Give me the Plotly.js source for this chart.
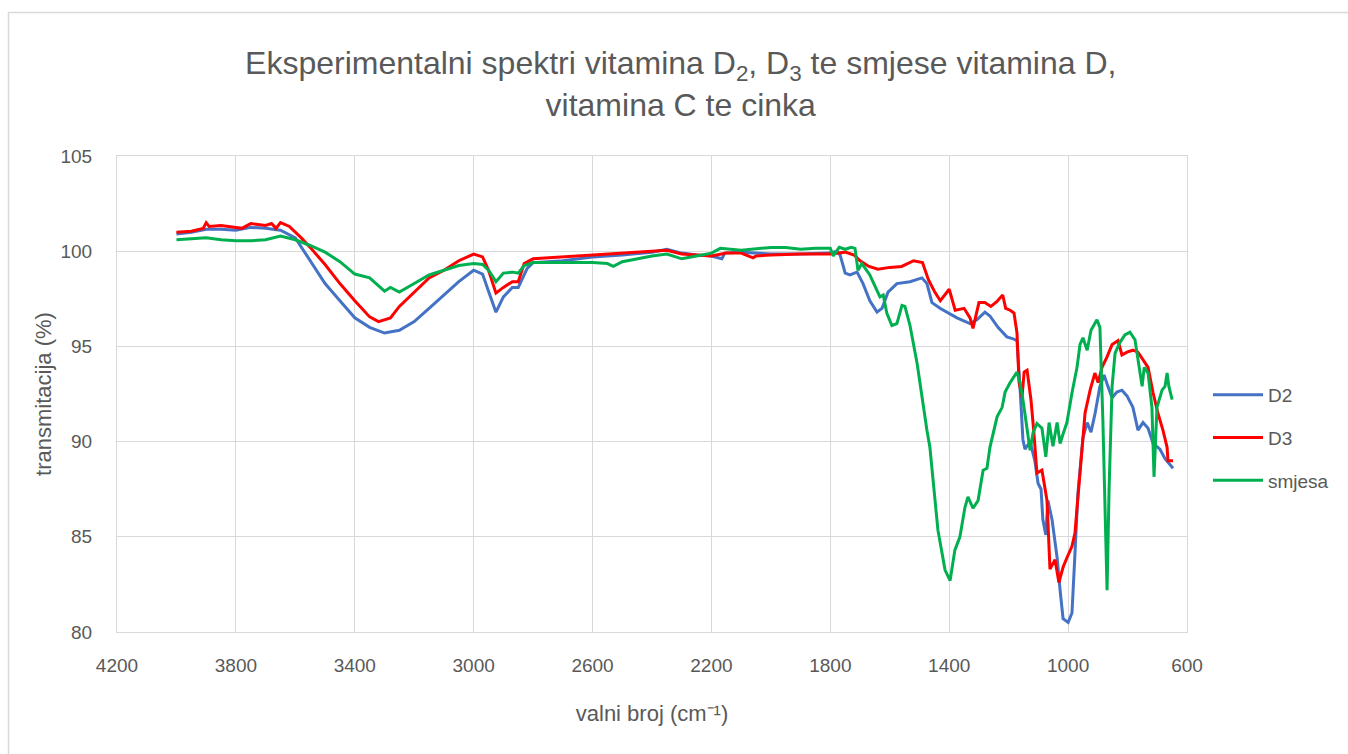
<!DOCTYPE html>
<html>
<head>
<meta charset="utf-8">
<script src="https://cdn.plot.ly/plotly-3.0.1.min.js"></script>
<style>html,body{margin:0;padding:0;background:#fff;}#chart{width:1348px;height:754px;}</style>
</head>
<body>
<div id="chart"></div>
<script>
const seriesNames = ["D2", "D3", "smjesa"];
const xTickLabels = ["4200", "3800", "3400", "3000", "2600", "2200", "1800", "1400", "1000", "600"];
const yTickLabels = ["80", "85", "90", "95", "100", "105"];

const d2Wavenumber = [4000, 3950, 3900, 3850, 3800, 3750, 3700, 3650, 3600, 3550, 3500, 3450, 3400, 3350, 3300, 3250, 3200, 3150, 3100, 3050, 3000, 2970, 2950, 2925, 2900, 2870, 2850, 2820, 2800, 2700, 2600, 2500, 2400, 2350, 2300, 2250, 2200, 2165, 2155, 2100, 2000, 1900, 1800, 1780, 1767, 1750, 1734, 1710, 1690, 1667, 1643, 1626, 1606, 1576, 1532, 1492, 1475, 1458, 1431, 1404, 1374, 1330, 1307, 1280, 1263, 1236, 1206, 1185, 1172, 1162, 1152, 1145, 1128, 1112, 1101, 1091, 1085, 1075, 1068, 1054, 1037, 1027, 1017, 1000, 987, 977, 967, 950, 936, 923, 909, 893, 879, 866, 852, 836, 819, 802, 782, 765, 748, 731, 714, 691, 674, 647];
const d2Transmission = [100.9, 101.0, 101.15, 101.15, 101.1, 101.25, 101.2, 101.1, 100.7, 99.5, 98.3, 97.4, 96.5, 96.0, 95.7, 95.85, 96.3, 97.0, 97.7, 98.4, 99.0, 98.8, 97.9, 96.8, 97.6, 98.1, 98.1, 99.1, 99.4, 99.5, 99.7, 99.8, 99.95, 100.1, 99.9, 99.8, 99.75, 99.6, 99.9, 99.95, 99.85, 99.85, 99.9, 100.0, 99.8, 98.85, 98.75, 98.9, 98.3, 97.4, 96.8, 97.0, 97.85, 98.3, 98.4, 98.6, 98.3, 97.3, 97.0, 96.75, 96.5, 96.2, 96.4, 96.8, 96.6, 96.0, 95.5, 95.4, 95.3, 92.9, 90.1, 89.6, 90.0, 89.0, 87.8, 87.5, 85.9, 85.1, 86.9, 85.9, 83.9, 82.2, 80.7, 80.5, 81.0, 84.1, 87.3, 90.2, 91.0, 90.5, 91.5, 92.9, 93.5, 92.9, 92.3, 92.6, 92.7, 92.4, 91.8, 90.6, 91.0, 90.7, 89.9, 89.6, 89.1, 88.6];

const d3Wavenumber = [4000, 3950, 3910, 3900, 3890, 3850, 3800, 3780, 3750, 3700, 3680, 3665, 3650, 3620, 3580, 3550, 3500, 3450, 3400, 3350, 3320, 3280, 3250, 3200, 3150, 3100, 3050, 3000, 2970, 2950, 2925, 2900, 2870, 2850, 2830, 2800, 2700, 2600, 2500, 2400, 2350, 2300, 2200, 2150, 2100, 2060, 2050, 2000, 1900, 1800, 1780, 1750, 1720, 1700, 1670, 1640, 1600, 1560, 1520, 1490, 1470, 1450, 1430, 1400, 1380, 1350, 1330, 1320, 1300, 1280, 1260, 1240, 1220, 1210, 1195, 1182, 1172, 1165, 1155, 1148, 1138, 1125, 1115, 1105, 1088, 1071, 1061, 1044, 1031, 1017, 1004, 987, 977, 960, 943, 926, 910, 899, 886, 869, 852, 832, 819, 802, 782, 765, 748, 731, 714, 698, 681, 667, 664, 647];
const d3Transmission = [101.0, 101.05, 101.2, 101.5, 101.3, 101.35, 101.25, 101.2, 101.45, 101.35, 101.45, 101.2, 101.5, 101.3, 100.7, 100.2, 99.3, 98.3, 97.4, 96.55, 96.3, 96.5, 97.1, 97.85, 98.6, 99.0, 99.5, 99.85, 99.7, 99.0, 97.8, 98.1, 98.4, 98.4, 99.35, 99.6, 99.7, 99.8, 99.9, 100.0, 100.05, 99.85, 99.75, 99.9, 99.9, 99.65, 99.75, 99.8, 99.85, 99.85, 99.9, 99.95, 99.8, 99.5, 99.2, 99.05, 99.15, 99.2, 99.5, 99.4, 98.5, 97.9, 97.4, 98.0, 96.9, 97.0, 96.5, 95.95, 97.3, 97.3, 97.1, 97.35, 97.7, 97.0, 96.9, 96.75, 95.7, 93.1, 92.35, 93.65, 93.75, 92.2, 90.45, 88.35, 88.5, 86.9, 83.3, 83.8, 82.6, 83.4, 83.9, 84.5, 85.2, 88.35, 91.5, 92.7, 93.6, 93.1, 93.9, 94.45, 95.1, 95.3, 94.55, 94.7, 94.8, 94.7, 94.3, 93.9, 92.55, 91.5, 90.6, 89.7, 89.0, 89.0];

const mixWavenumber = [4000, 3950, 3900, 3850, 3800, 3750, 3700, 3650, 3600, 3550, 3500, 3450, 3400, 3350, 3320, 3300, 3280, 3250, 3200, 3150, 3100, 3050, 3000, 2970, 2950, 2925, 2900, 2870, 2850, 2830, 2800, 2700, 2600, 2550, 2530, 2500, 2450, 2400, 2350, 2300, 2250, 2200, 2170, 2100, 2000, 1950, 1900, 1850, 1800, 1790, 1770, 1750, 1730, 1717, 1707, 1694, 1667, 1643, 1633, 1622, 1610, 1593, 1576, 1559, 1549, 1532, 1508, 1475, 1465, 1438, 1414, 1397, 1381, 1364, 1347, 1337, 1320, 1303, 1286, 1273, 1263, 1239, 1222, 1212, 1195, 1172, 1162, 1152, 1138, 1128, 1118, 1105, 1088, 1075, 1064, 1051, 1037, 1027, 1017, 1004, 987, 970, 960, 950, 936, 923, 903, 893, 883, 869, 862, 852, 842, 826, 809, 792, 775, 765, 751, 744, 731, 718, 711, 701, 684, 674, 667, 661, 650];
const mixTransmission = [100.6, 100.65, 100.7, 100.6, 100.55, 100.55, 100.6, 100.8, 100.6, 100.3, 99.95, 99.45, 98.8, 98.6, 98.2, 97.9, 98.1, 97.85, 98.3, 98.75, 99.0, 99.25, 99.35, 99.3, 99.0, 98.4, 98.85, 98.9, 98.85, 99.25, 99.4, 99.4, 99.4, 99.35, 99.2, 99.45, 99.6, 99.75, 99.85, 99.6, 99.75, 99.9, 100.15, 100.05, 100.2, 100.2, 100.1, 100.15, 100.15, 99.75, 100.2, 100.1, 100.2, 100.15, 99.0, 99.35, 98.75, 97.95, 97.6, 97.7, 96.75, 96.1, 96.2, 97.15, 97.1, 96.1, 94.1, 90.6, 89.7, 85.35, 83.25, 82.7, 84.3, 85.0, 86.55, 87.1, 86.5, 86.9, 88.5, 88.6, 89.7, 91.3, 91.8, 92.6, 93.1, 93.65, 93.1, 92.2, 90.8, 89.55, 90.45, 90.95, 90.7, 89.2, 91.0, 89.75, 91.0, 89.9, 90.4, 91.0, 92.55, 93.9, 95.1, 95.45, 94.8, 95.85, 96.4, 96.0, 91.1, 82.2, 87.6, 92.9, 94.65, 95.2, 95.6, 95.75, 95.35, 94.3, 92.9, 93.9, 93.6, 91.8, 88.15, 91.8, 92.7, 92.9, 93.6, 92.9, 92.2];

const seriesColors = ["#4472C4", "#FF0000", "#00B050"];
const xs = [d2Wavenumber, d3Wavenumber, mixWavenumber];
const ys = [d2Transmission, d3Transmission, mixTransmission];

const traces = seriesNames.map((name, i) => ({
  x: xs[i], y: ys[i], name: name, type: "scatter", mode: "lines",
  legendgroup: "g" + i,
  line: {color: seriesColors[i], width: 3}
}));

const FONT = "Liberation Sans, Arial, sans-serif";
const TXT = "#595959";
const GRID = "#d9d9d9";

const layout = {
  width: 1348, height: 754,
  paper_bgcolor: "#ffffff", plot_bgcolor: "#ffffff",
  margin: {l: 117, r: 161, t: 156, b: 122},
  font: {family: FONT, color: TXT},
  title: {
    text: "Eksperimentalni spektri vitamina D<sub>2</sub>, D<sub>3</sub> te smjese vitamina D,<br>vitamina C te cinka",
    font: {family: FONT, size: 32, color: TXT},
    x: 0.505, xref: "container", xanchor: "center",
    y: 1 - 74 / 754, yref: "container", yanchor: "middle"
  },
  xaxis: {
    range: [4200, 600], tickmode: "array",
    tickvals: xTickLabels.map(Number), ticktext: xTickLabels,
    showgrid: true, gridcolor: GRID, gridwidth: 1,
    zeroline: false, showline: true, linecolor: GRID, linewidth: 1, mirror: true,
    ticks: "", ticklabelstandoff: 16,
    tickfont: {family: FONT, size: 19, color: TXT},
    title: {text: "valni broj (cm⁻¹)", font: {family: FONT, size: 22, color: TXT}, standoff: 30}
  },
  yaxis: {
    range: [80, 105], tickmode: "array",
    tickvals: yTickLabels.map(Number), ticktext: yTickLabels,
    showgrid: true, gridcolor: GRID, gridwidth: 1,
    zeroline: false, showline: true, linecolor: GRID, linewidth: 1, mirror: true,
    ticks: "", ticklabelstandoff: 20,
    tickfont: {family: FONT, size: 19, color: TXT},
    title: {text: "transmitacija (%)", font: {family: FONT, size: 22, color: TXT}, standoff: 2}
  },
  legend: {
    x: (1208 - 117) / 1070, xanchor: "left",
    y: (632 - 438) / 476, yanchor: "middle",
    traceorder: "grouped", tracegroupgap: 15,
    itemwidth: 50,
    font: {family: FONT, size: 19, color: TXT},
    bgcolor: "rgba(0,0,0,0)"
  },
  shapes: [{
    type: "rect", xref: "paper", yref: "paper",
    x0: (8.5 - 117) / 1070, x1: (1400 - 117) / 1070,
    y0: (632 - 800) / 476, y1: (632 - 12.5) / 476,
    line: {color: "#d9d9d9", width: 1.5}, fillcolor: "rgba(0,0,0,0)", layer: "below"
  }],
  showlegend: true
};

Plotly.newPlot("chart", traces, layout, {displayModeBar: false, staticPlot: true});
</script>
</body>
</html>
